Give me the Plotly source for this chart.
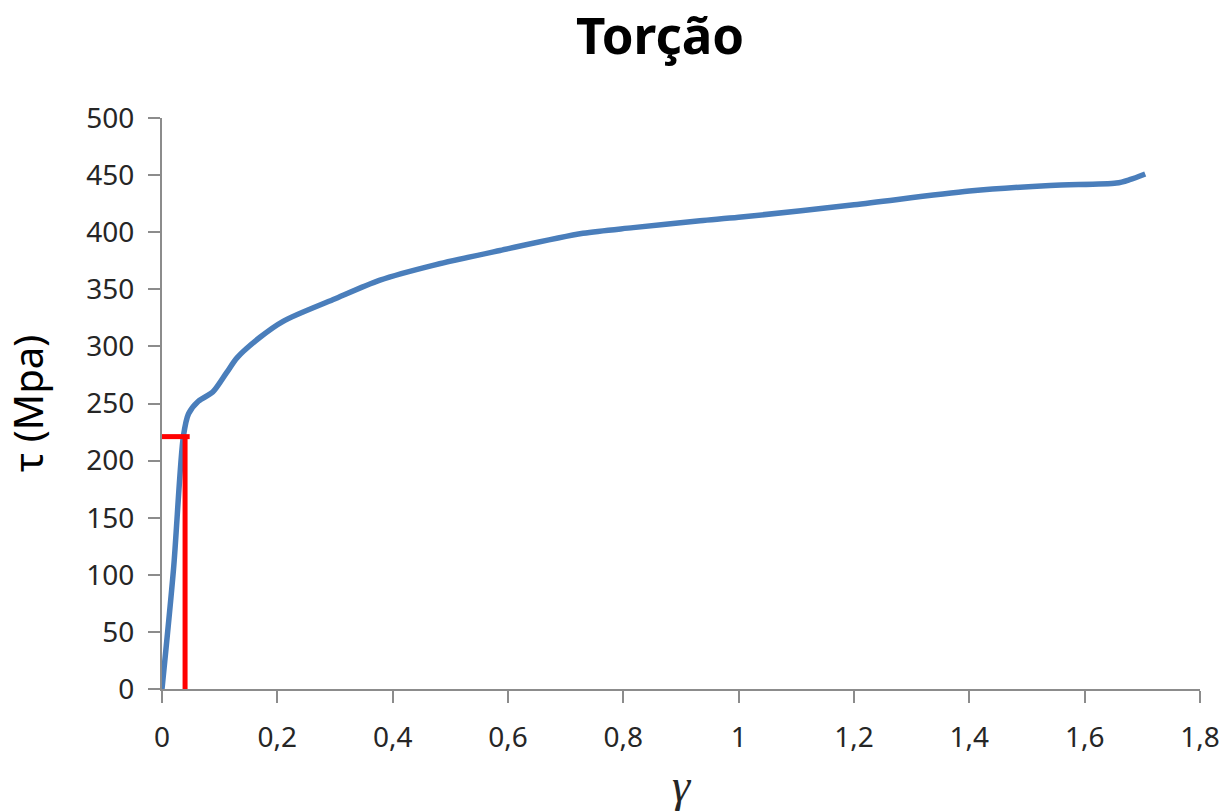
import plotly.graph_objects as go

# Curve data (gamma vs tau)
gamma = [0, 0.02, 0.037, 0.046, 0.063, 0.088, 0.112, 0.13, 0.17, 0.21, 0.297, 0.378,
         0.47, 0.586, 0.73, 0.817, 0.933, 1.0, 1.2, 1.4, 1.54, 1.655, 1.678, 1.705]
tau = [0, 105, 221, 241, 252, 260, 277, 290, 308, 322, 341, 358,
       371, 384, 399, 404, 410, 413, 424, 436, 441, 443, 446, 451]

# Yield point marked in red
yield_gamma = 0.04
yield_tau = 221
yield_bar_end = 0.048

x_ticks = [0, 0.2, 0.4, 0.6, 0.8, 1.0, 1.2, 1.4, 1.6, 1.8]
x_tick_labels = ["0", "0,2", "0,4", "0,6", "0,8", "1", "1,2", "1,4", "1,6", "1,8"]
y_ticks = [0, 50, 100, 150, 200, 250, 300, 350, 400, 450, 500]
y_tick_labels = [str(v) for v in y_ticks]

BLUE = "#4a7ebb"
RED = "#ff0000"
AXIS = "#8c8c8c"
TXT = "#262626"
FONT = "Noto Sans"

fig = go.Figure()
fig.add_trace(go.Scatter(x=gamma, y=tau, mode="lines",
                         line=dict(color=BLUE, width=5.5, shape="spline", smoothing=0.8),
                         hoverinfo="skip", showlegend=False))
fig.add_trace(go.Scatter(x=[yield_gamma, yield_gamma], y=[0, yield_tau], mode="lines",
                         line=dict(color=RED, width=5), showlegend=False, cliponaxis=False))
fig.add_trace(go.Scatter(x=[0, yield_bar_end], y=[yield_tau, yield_tau], mode="lines",
                         line=dict(color=RED, width=5), showlegend=False, cliponaxis=False))

fig.update_layout(
    width=1223, height=811,
    margin=dict(l=162, r=23, t=118, b=122, autoexpand=False),
    paper_bgcolor="white", plot_bgcolor="white",
    showlegend=False,
    title=dict(text="<b>Torção</b>", x=660 / 1223, xanchor="center",
               y=1 - 36 / 811, yanchor="middle", yref="container",
               font=dict(family=FONT, size=51, color="black")),
)
fig.update_xaxes(
    range=[0, 1.8], tickvals=x_ticks, ticktext=x_tick_labels, automargin=False,
    showgrid=False, zeroline=False, showline=True, linecolor=AXIS, linewidth=2,
    ticks="outside", ticklen=12, tickwidth=2, tickcolor=AXIS,
    tickfont=dict(family=FONT, size=28, color=TXT), ticklabelstandoff=10,
    title=dict(text="<i>γ</i>", font=dict(family="Liberation Serif", size=46, color=TXT), standoff=16),
)
fig.update_yaxes(
    range=[0, 500], tickvals=y_ticks, ticktext=y_tick_labels, automargin=False,
    showgrid=False, zeroline=False, showline=True, linecolor=AXIS, linewidth=2,
    ticks="outside", ticklen=12, tickwidth=2, tickcolor=AXIS,
    tickfont=dict(family=FONT, size=28, color=TXT), ticklabelstandoff=8,
    title=dict(text="τ (Mpa)", font=dict(family=FONT, size=40, color="black"), standoff=36),
)

fig.write_html("out.html", config={"displayModeBar": False},
               post_script="document.body.style.margin='0';document.body.style.padding='0';")
